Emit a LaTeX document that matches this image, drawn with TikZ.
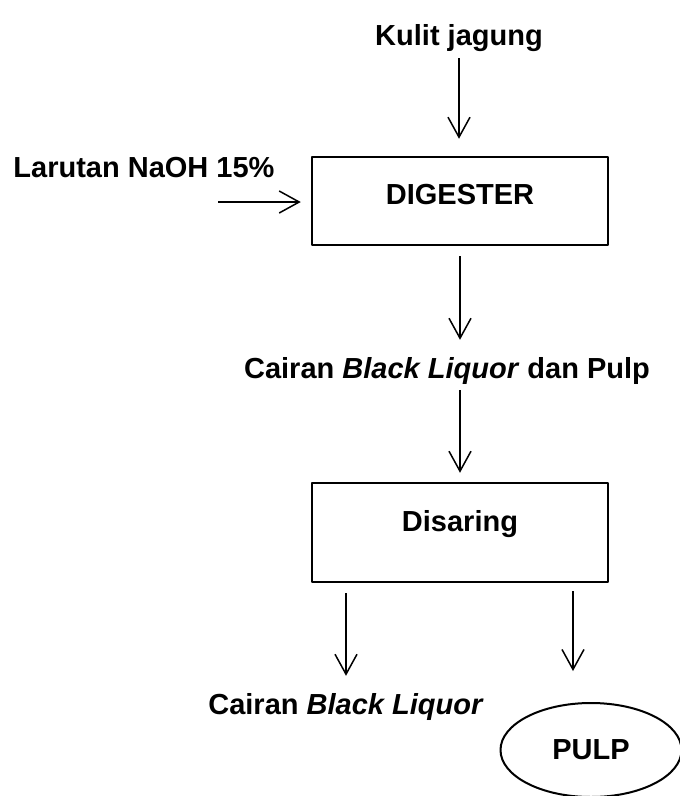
\documentclass[tikz,border=0pt]{standalone}
\usepackage{fontspec}
\setmainfont{Liberation Sans}
\usetikzlibrary{arrows.meta,shapes.geometric}
\begin{document}
\begin{tikzpicture}[x=1pt,y=-1pt,font=\fontsize{29}{35}\selectfont\bfseries,line join=round,
	teks/.style={inner sep=0,anchor=base},
	kotak/.style={rectangle,draw,line width=2.5pt,inner sep=0,text height=22pt,minimum width=296pt},
	panah/.style={-{Straight Barb[length=20pt,width=22pt]},line width=1.5pt}]
	\useasboundingbox (0,0) rectangle (680,796);
	\path (459,45)node[teks](kulit){Kulit jagung}
	(144,177)node[teks](larutan){Larutan NaOH 15\%}
	(460,201)node[kotak,minimum height=88pt,text depth=16pt](digester){DIGESTER}
	;
	\path (447,378)node[teks](cairan){Cairan \textit{Black Liquor} dan Pulp}
	(460,532.5)node[kotak,minimum height=99pt,text depth=24pt](disaring){Disaring}
	;
	\path (346,714)node[teks](liquor){Cairan \textit{Black Liquor}}
	(591,750)node[ellipse,draw,line width=2pt,minimum width=181pt,minimum height=94pt,inner sep=0](pulp){PULP};
	\coordinate (naoh) at (218,202);
	\coordinate (kanan) at (573,0);
	\draw[panah,shorten <=7pt,shorten >=17pt](kulit.south)--(kulit.south |- digester.north);
	\draw[panah,shorten >=10pt](naoh)--(naoh -| digester.west);
	\draw[panah,shorten <=10pt,shorten >=17pt](digester.south)--(digester.south |- cairan.north);
	\draw[panah,shorten <=6pt,shorten >=9pt](cairan.south -| disaring.north)--(disaring.north);
	\draw[panah,shorten <=10pt,shorten >=17pt](disaring.south -| liquor)--(liquor.north);
	\draw[panah,shorten <=8pt,shorten >=31pt](disaring.south -| kanan)--(pulp.north -| kanan);
\end{tikzpicture}
\end{document}
